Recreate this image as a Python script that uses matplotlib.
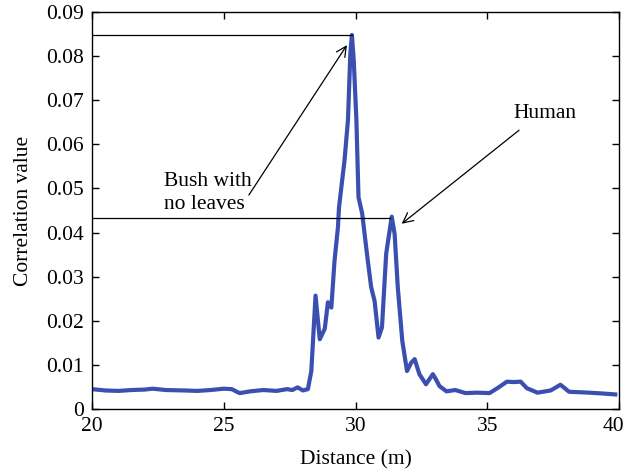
import matplotlib
matplotlib.use('Agg')
import matplotlib.pyplot as plt
from matplotlib.transforms import ScaledTranslation

# correlation vs distance
distance = [20.0, 20.5, 21.0, 21.5, 22.0, 22.3, 22.8, 23.5, 24.0, 24.5, 25.0, 25.3, 25.6,
            26.0, 26.5, 27.0, 27.4, 27.6, 27.8, 28.0, 28.19, 28.32, 28.48, 28.64, 28.83,
            28.95, 29.08, 29.2, 29.33, 29.37, 29.58, 29.71, 29.8, 29.86, 29.93, 30.03,
            30.11, 30.25, 30.43, 30.59, 30.72, 30.87, 31.0, 31.16, 31.37, 31.48, 31.6,
            31.77, 31.95, 32.11, 32.24, 32.42, 32.67, 32.93, 33.05, 33.18, 33.45, 33.78,
            34.17, 34.6, 35.08, 35.4, 35.74, 36.0, 36.26, 36.5, 36.9, 37.4, 37.77, 38.1,
            38.5, 38.86, 39.4, 39.85]
corr = [0.0045, 0.0042, 0.0041, 0.0043, 0.0044, 0.0046, 0.0043, 0.0042, 0.0041, 0.0043,
        0.0046, 0.0045, 0.0036, 0.0040, 0.0043, 0.0041, 0.0045, 0.0043, 0.0049, 0.0042,
        0.0045, 0.0086, 0.0257, 0.0158, 0.0182, 0.0242, 0.0230, 0.0336, 0.0412, 0.0457,
        0.0564, 0.0655, 0.0806, 0.0848, 0.0790, 0.0655, 0.0480, 0.0443, 0.0352, 0.0276,
        0.0245, 0.0162, 0.0185, 0.0352, 0.0436, 0.0397, 0.0276, 0.0155, 0.0086, 0.0105,
        0.0113, 0.0079, 0.0056, 0.0079, 0.0067, 0.0052, 0.0040, 0.0043, 0.0036, 0.0037,
        0.0036, 0.0048, 0.0062, 0.0061, 0.0062, 0.0047, 0.0037, 0.0042, 0.0055, 0.0039,
        0.0038, 0.0037, 0.0035, 0.0033]

bush_peak = (29.86, 0.0848)
human_peak = (31.37, 0.0433)

plt.rcParams['font.family'] = ['Liberation Serif', 'DejaVu Serif']
fs = 15.5

fig = plt.figure(figsize=(6.28, 4.72), dpi=100)
ax = fig.add_axes([0.1465, 0.1335, 0.8395, 0.8410])

ax.plot(distance, corr, color='#3b4fb0', linewidth=3.0, solid_joinstyle='round')

# reference lines from the y axis to the two peaks
ax.plot([20, bush_peak[0]], [bush_peak[1], bush_peak[1]], color='black', linewidth=0.9)
ax.plot([20, human_peak[0] - 0.05], [human_peak[1], human_peak[1]], color='black', linewidth=0.9)

arrow = dict(arrowstyle='->', color='black', lw=0.9, shrinkA=0, shrinkB=0, mutation_scale=18)
ax.text(22.72, 0.0537, 'Bush with\nno leaves', fontsize=fs, ha='left', va='top', linespacing=1.3)
ax.annotate('', xy=(29.67, 0.0825), xytext=(25.95, 0.0485), arrowprops=arrow)
ax.text(37.19, 0.0671, 'Human', fontsize=fs, ha='center', va='center')
ax.annotate('', xy=(31.75, 0.042), xytext=(36.2, 0.0632), arrowprops=arrow)

ax.set_xlim(20, 40)
ax.set_ylim(0, 0.09)
ax.set_xticks([20, 25, 30, 35, 40])
ax.set_yticks([0, 0.01, 0.02, 0.03, 0.04, 0.05, 0.06, 0.07, 0.08, 0.09])
ax.set_yticklabels(['0', '0.01', '0.02', '0.03', '0.04', '0.05', '0.06', '0.07', '0.08', '0.09'])
ax.tick_params(direction='in', top=True, right=True, length=5, width=1, labelsize=fs, pad=6)
ax.set_xlabel('Distance (m)', fontsize=fs, labelpad=10)
ax.set_ylabel('Correlation value', fontsize=fs, labelpad=9)
for s in ax.spines.values():
    s.set_linewidth(1.0)

# keep the last x label inside the picture
last = ax.get_xticklabels()[-1]
last.set_transform(last.get_transform() + ScaledTranslation(-4 / 72, 0, fig.dpi_scale_trans))

fig.savefig('out.png', dpi=100)
